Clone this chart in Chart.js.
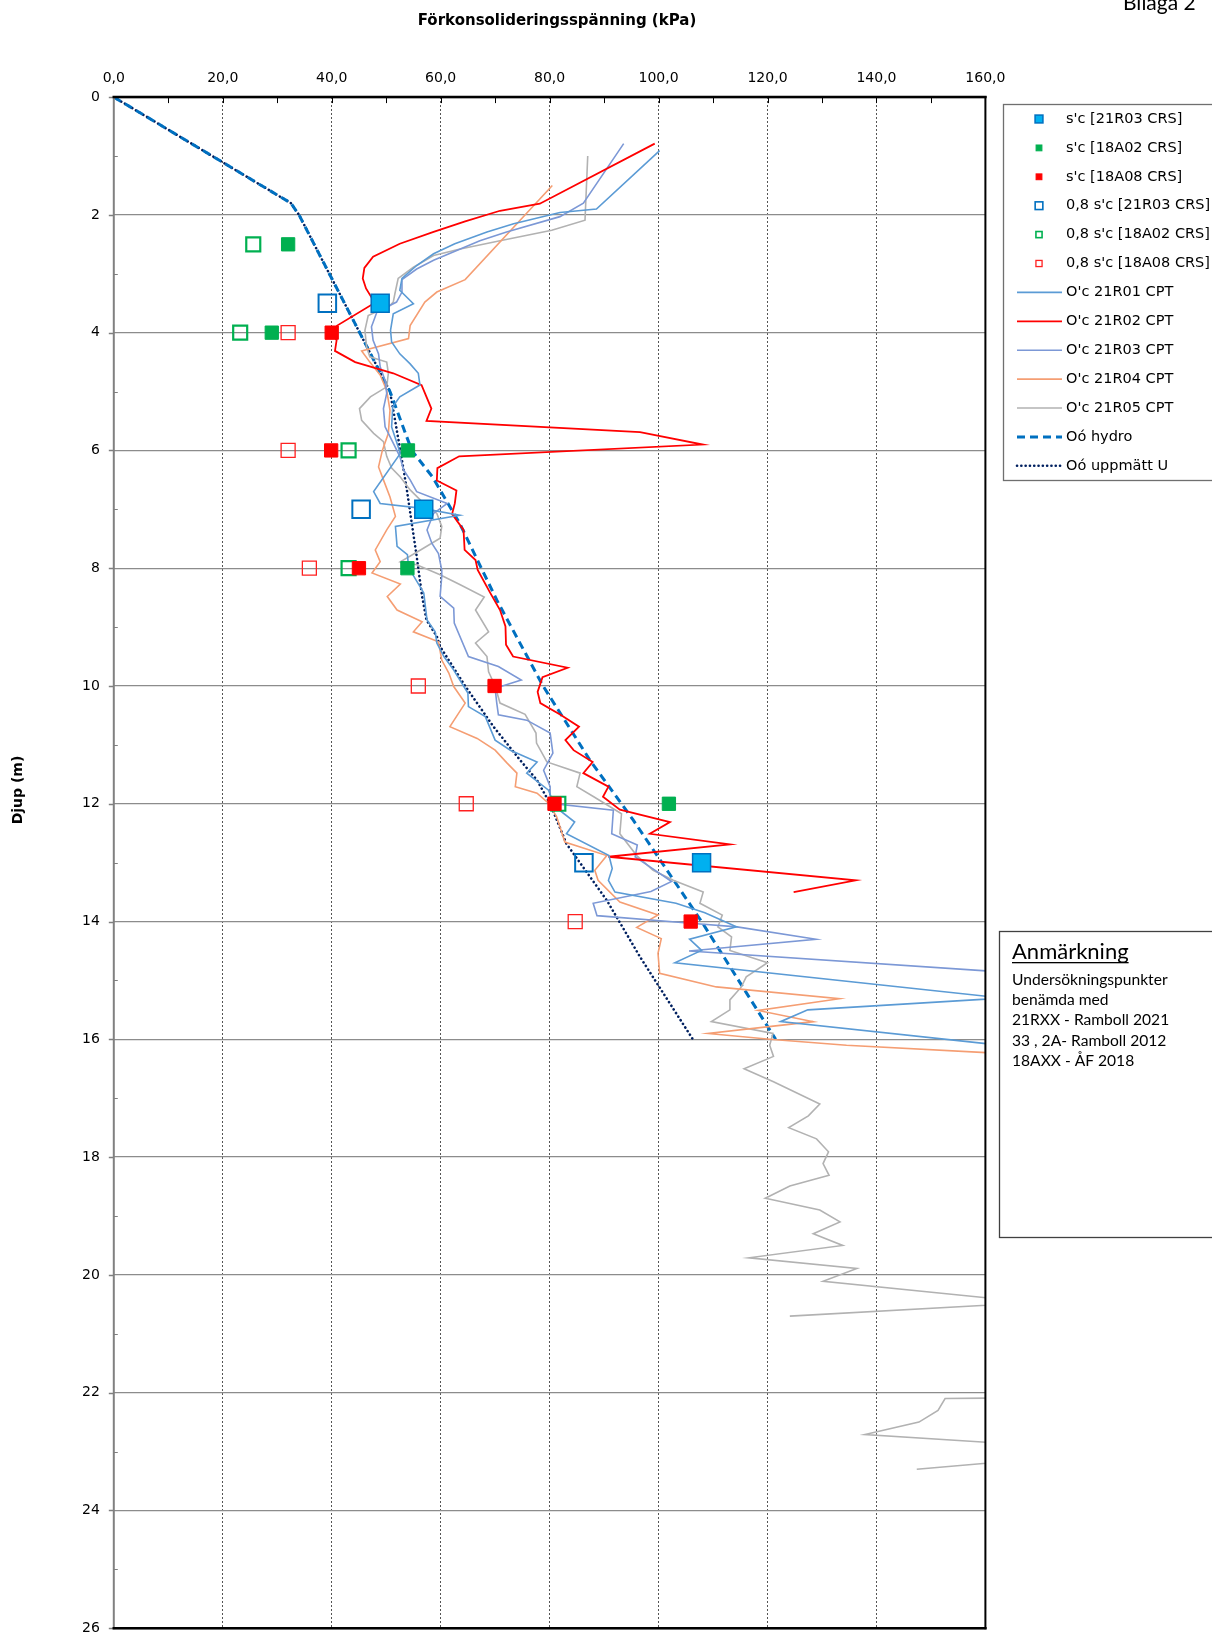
<!DOCTYPE html>
<html>
<head>
<meta charset="utf-8">
<script src="https://cdn.jsdelivr.net/npm/chart.js@4.4.1/dist/chart.umd.min.js"></script>
<style>
  html, body { margin: 0; padding: 0; background: #fff; overflow: hidden; }
  canvas { display: block; }
</style>
</head>
<body>
<canvas id="profile" width="1212" height="1637"></canvas>
<script>
// tick labels
const stressTicks = [0, 20, 40, 60, 80, 100, 120, 140, 160];
const depthTicks = [0, 2, 4, 6, 8, 10, 12, 14, 16, 18, 20, 22, 24, 26];

// lab values [kPa, depth m]
const sc21R03 = [[48.9, 3.5], [56.9, 7.0], [107.9, 13.0]];
const sc18A02 = [[32.0, 2.5], [29.0, 4.0], [54.0, 6.0], [53.9, 8.0], [101.9, 12.0]];
const sc18A08 = [[40.0, 4.0], [39.9, 6.0], [45.0, 8.0], [69.9, 10.0], [80.9, 12.0], [105.9, 14.0]];
const sc08_21R03 = [[39.2, 3.5], [45.4, 7.0], [86.3, 13.0]];
const sc08_18A02 = [[25.6, 2.5], [23.2, 4.0], [43.1, 6.0], [43.1, 8.0], [81.6, 12.0]];
const sc08_18A08 = [[32.0, 4.0], [32.0, 6.0], [35.9, 8.0], [55.9, 10.0], [64.7, 12.0], [84.7, 14.0]];

// CPT profiles [kPa, depth m]
const cpt21R01 = [[100.2,0.91],[88.6,1.90],[81.9,1.96],[73.4,2.15],[68.5,2.29],[62.6,2.49],[58.7,2.66],[55.6,2.86],
  [52.9,3.08],[52.5,3.28],[55.0,3.51],[51.3,3.68],[50.8,3.96],[51.0,4.16],[52.5,4.36],[54.4,4.53],[55.9,4.69],
  [56.2,4.89],[52.5,5.09],[51.2,5.26],[51.0,5.6],[52.6,6.05],[47.7,6.7],[48.9,6.9],[56.3,6.98],[63.5,7.1],
  [51.7,7.29],[52.0,7.63],[53.9,7.77],[54.1,7.97],[54.7,8.08],[56.9,8.42],[57.5,8.88],[59.0,9.08],[59.3,9.27],
  [60.6,9.5],[62.4,9.73],[65.0,10.12],[65.1,10.35],[68.2,10.52],[70.0,10.92],[72.8,11.09],[77.7,11.29],
  [75.8,11.48],[79.8,11.77],[81.0,12.05],[84.6,12.31],[83.1,12.51],[90.9,12.88],[91.5,13.1],[90.8,13.3],
  [92.0,13.5],[103.2,13.69],[108.5,13.85],[114.3,14.09],[105.7,14.3],[107.9,14.49],[103.0,14.7],[163.2,15.3],
  [127.4,15.5],[122.4,15.7],[175,16.22]];
const cpt21R02 = [[99.3,0.79],[78.2,1.81],[70.9,1.93],[64.5,2.11],[58.7,2.29],[52.5,2.49],[47.6,2.71],[46.0,2.9],
  [45.7,3.08],[46.3,3.25],[47.3,3.4],[47.8,3.5],[41.0,3.88],[40.0,4.0],[40.9,4.13],[40.6,4.31],[44.3,4.5],
  [51.3,4.69],[56.5,4.89],[58.3,5.29],[57.4,5.5],[96.6,5.69],[108.1,5.9],[63.4,6.1],[59.4,6.3],[59.3,6.51],
  [62.9,6.68],[62.6,6.9],[62.1,7.08],[64.2,7.35],[64.4,7.69],[66.4,7.86],[66.8,8.03],[69.1,8.42],[70.9,8.71],
  [71.9,8.99],[72.0,9.3],[73.3,9.5],[83.3,9.69],[78.7,9.85],[77.8,10.1],[78.3,10.29],[82.0,10.49],[85.4,10.69],
  [82.9,10.92],[84.4,11.09],[87.9,11.29],[86.2,11.48],[90.8,11.71],[89.8,11.88],[92.9,12.1],[102.1,12.31],
  [98.4,12.51],[113.1,12.69],[90.8,12.9],[136.2,13.3],[124.8,13.5]];
const cpt21R03 = [[93.6,0.79],[86.2,1.8],[81.9,2.03],[72.1,2.29],[67.2,2.44],[62.3,2.63],[58.7,2.77],[55.6,2.92],
  [52.9,3.1],[52.9,3.31],[51.9,3.48],[48.3,3.65],[47.3,3.9],[47.6,4.13],[48.6,4.36],[48.9,4.58],[49.8,4.81],
  [50.1,5.03],[49.5,5.29],[49.8,5.6],[51.0,5.82],[52.5,6.1],[53.2,6.33],[54.4,6.5],[55.6,6.7],[61.2,6.9],
  [58.7,7.07],[57.5,7.35],[58.4,7.58],[59.6,7.75],[60.2,8.03],[60.2,8.14],[59.9,8.48],[62.4,8.68],[62.5,8.93],
  [65.1,9.5],[70.6,9.67],[74.8,9.9],[70.0,10.04],[70.3,10.29],[70.6,10.49],[75.8,10.58],[80.1,10.8],[80.6,11.14],
  [78.9,11.43],[80.1,11.71],[80.1,11.99],[91.7,12.11],[91.4,12.51],[96.1,12.7],[95.7,12.9],[98.9,13.1],
  [102.4,13.32],[98.6,13.49],[88.0,13.69],[88.7,13.9],[105.9,14.03],[114.4,14.09],[128.9,14.3],[105.6,14.5],
  [175,14.93]];
const cpt21R04 = [[80.5,1.5],[64.5,3.1],[59.3,3.31],[57.1,3.48],[54.4,3.88],[54.1,4.1],[45.5,4.31],[47.0,4.5],
  [48.9,4.72],[50.1,4.98],[50.7,5.32],[50.4,5.71],[49.3,6.0],[48.6,6.28],[49.5,6.5],[50.7,6.79],[51.7,7.12],
  [50.1,7.35],[48.0,7.69],[48.9,7.89],[47.4,8.08],[52.6,8.27],[50.2,8.48],[52.0,8.71],[56.6,8.91],[55.0,9.08],
  [59.6,9.25],[60.2,9.56],[61.5,9.78],[62.4,10.01],[64.5,10.29],[61.7,10.69],[66.7,10.89],[70.0,11.09],
  [72.2,11.31],[74.0,11.48],[73.7,11.71],[77.7,11.82],[79.8,11.99],[81.3,12.22],[82.8,12.65],[90.5,12.88],
  [88.3,13.13],[88.9,13.3],[92.9,13.67],[99.9,13.89],[96.0,14.1],[100.5,14.29],[99.9,14.54],[100.2,14.88],
  [110.6,15.11],[133.2,15.31],[118.3,15.51],[128.4,15.7],[109.1,15.9],[120.4,16.0],[134.5,16.1],[175,16.3]];
const cpt21R05 = [[87.0,1.0],[86.5,2.09],[80.4,2.26],[70.9,2.44],[63.6,2.58],[58.7,2.69],[55.0,2.89],[52.2,3.08],
  [51.6,3.34],[51.3,3.48],[50.7,3.54],[46.7,3.71],[46.1,3.96],[46.4,4.24],[47.0,4.41],[50.1,4.5],[50.4,4.69],
  [50.1,4.92],[47.1,5.09],[45.1,5.29],[45.5,5.49],[47.7,5.71],[49.5,5.85],[50.1,6.1],[51.0,6.3],[52.6,6.45],
  [54.4,6.67],[56.9,6.9],[59.3,7.07],[60.2,7.29],[59.9,7.49],[56.3,7.69],[52.6,7.89],[55.6,7.94],[59.9,8.11],
  [63.6,8.28],[68.0,8.49],[66.4,8.71],[68.8,9.08],[66.4,9.27],[68.5,9.5],[68.8,9.76],[70.0,10.0],[70.9,10.29],
  [75.5,10.48],[77.5,10.8],[77.6,10.97],[79.5,11.29],[85.6,11.48],[85.0,11.71],[88.1,11.88],[93.2,12.17],
  [92.9,12.51],[96.0,12.88],[99.0,13.13],[102.7,13.3],[108.2,13.5],[107.6,13.69],[111.7,13.89],[110.9,14.09],
  [113.4,14.26],[113.1,14.49],[120.0,14.7],[116.1,14.94],[115.2,15.11],[113.1,15.33],[113.1,15.5],[109.7,15.7],
  [121.0,15.9],[120.4,16.1],[121.1,16.29],[115.7,16.5],[121.1,16.72],[129.6,17.1],[127.5,17.3],[123.9,17.5],
  [129.0,17.69],[131.2,17.91],[130.2,18.11],[131.3,18.31],[124.1,18.49],[119.6,18.7],[129.6,18.9],[133.3,19.1],
  [128.4,19.3],[133.8,19.5],[116.6,19.71],[136.4,19.89],[130.2,20.11],[169,20.47],[124.1,20.7],
  null,
  [175,22.08],[152.6,22.1],[151.3,22.3],[147.8,22.5],[137.9,22.71],[175,22.93],[175,23.08],[147.4,23.3]];

// reference stress lines
const hydro = [[0,0],[32.5,1.8],[34.0,2.0],[50.7,5.0],[54.7,6.0],[58.5,6.45],[63.5,7.24],[70.3,8.54],[78.8,10.0],
  [87.4,11.26],[95.3,12.27],[107.9,14.0],[121.5,16.0]];
const uppmatt = [[0,0],[32.5,1.8],[34.0,2.0],[50.7,5.0],[52.6,6.0],[53.8,6.67],[54.7,7.24],[55.6,7.8],[56.6,8.48],
  [57.4,8.88],[59.3,9.16],[59.9,9.33],[64.5,10.0],[69.7,10.69],[74.6,11.26],[77.7,11.6],[80.1,12.0],[83.1,12.68],
  [90.5,13.64],[96.6,14.6],[106.3,16.0]];

const pts = arr => arr.map(p => p ? { x: p[0], y: p[1] } : { x: null, y: null });

function markers(label, data, fill, stroke, r, bw) {
  return { label, data: pts(data), showLine: false, pointStyle: 'rect', pointRadius: r,
    pointBackgroundColor: fill, pointBorderColor: stroke, pointBorderWidth: bw,
    backgroundColor: fill, borderColor: stroke, borderWidth: bw };
}
function profile(label, data, color, width) {
  return { label, data: pts(data), showLine: true, pointRadius: 0, borderColor: color,
    borderWidth: width, backgroundColor: color, fill: false, tension: 0 };
}

const datasets = [
  markers("s'c [21R03 CRS]", sc21R03, '#00B0F0', '#0070C0', 12.7, 1.5),
  markers("s'c [18A02 CRS]", sc18A02, '#00B050', '#00B050', 9.4, 1),
  markers("s'c [18A08 CRS]", sc18A08, '#FF0000', '#FF0000', 9.4, 1),
  markers("0,8 s'c [21R03 CRS]", sc08_21R03, 'rgba(255,255,255,0)', '#0070C0', 12.4, 2),
  markers("0,8 s'c [18A02 CRS]", sc08_18A02, 'rgba(255,255,255,0)', '#00B050', 9.9, 2.2),
  markers("0,8 s'c [18A08 CRS]", sc08_18A08, 'rgba(255,255,255,0)', '#FF2020', 9.9, 1.3),
  profile("O'c 21R01 CPT", cpt21R01, '#5B9BD5', 1.6),
  profile("O'c 21R02 CPT", cpt21R02, '#FF0000', 1.8),
  profile("O'c 21R03 CPT", cpt21R03, '#7C98D6', 1.6),
  profile("O'c 21R04 CPT", cpt21R04, '#F59E73', 1.6),
  profile("O'c 21R05 CPT", cpt21R05, '#B2B2B2', 1.6),
  Object.assign(profile('Oó hydro', hydro, '#0070C0', 3), { borderDash: [8, 5] }),
  Object.assign(profile('Oó uppmätt U', uppmatt, '#002060', 2.6), { borderDash: [0.1, 4.2], borderCapStyle: 'round' })
];

const decor = {
  id: 'decor',
  afterDraw(chart) {
    const { ctx, chartArea: a } = chart;
    const xs = chart.scales.x, ys = chart.scales.y;
    ctx.save();
    // ticks
    ctx.strokeStyle = '#000'; ctx.lineWidth = 1;
    for (let v = 10; v < 160; v += 10) {
      const px = Math.round(xs.getPixelForValue(v)) + 0.5;
      ctx.beginPath(); ctx.moveTo(px, a.top); ctx.lineTo(px, a.top + 6); ctx.stroke();
    }
    ctx.strokeStyle = '#7f7f7f';
    for (let d = 1; d < 26; d += 2) {
      const py = Math.round(ys.getPixelForValue(d)) + 0.5;
      ctx.beginPath(); ctx.moveTo(a.left, py); ctx.lineTo(a.left + 4, py); ctx.stroke();
    }
    ctx.lineWidth = 1.5;
    depthTicks.forEach(d => {
      const py = Math.round(ys.getPixelForValue(d)) + 0.5;
      ctx.beginPath(); ctx.moveTo(a.left - 5, py); ctx.lineTo(a.left, py); ctx.stroke();
    });
    // frame
    ctx.lineCap = 'square';
    ctx.strokeStyle = '#808080'; ctx.lineWidth = 2;
    ctx.beginPath(); ctx.moveTo(a.left, a.top); ctx.lineTo(a.left, a.bottom); ctx.stroke();
    ctx.strokeStyle = '#000'; ctx.lineWidth = 2;
    ctx.beginPath(); ctx.moveTo(a.right, a.top); ctx.lineTo(a.right, a.bottom); ctx.stroke();
    ctx.lineWidth = 2.5;
    ctx.beginPath(); ctx.moveTo(a.left, a.top); ctx.lineTo(a.right, a.top); ctx.stroke();
    ctx.beginPath(); ctx.moveTo(a.left, a.bottom); ctx.lineTo(a.right, a.bottom); ctx.stroke();

    // titles
    ctx.fillStyle = '#000';
    ctx.textAlign = 'center'; ctx.textBaseline = 'middle';
    ctx.font = 'bold 15px "DejaVu Sans"';
    ctx.fillText('Förkonsolideringsspänning (kPa)', 557, 21);
    ctx.save();
    ctx.translate(18, 790); ctx.rotate(-Math.PI / 2);
    ctx.font = 'bold 14px "DejaVu Sans"';
    ctx.fillText('Djup (m)', 0, 0);
    ctx.restore();
    ctx.textAlign = 'left'; ctx.textBaseline = 'alphabetic';
    ctx.font = '21px Lato';
    ctx.fillText('Bilaga 2', 1123, 10);

    // legend box
    ctx.strokeStyle = '#6f6f6f'; ctx.lineWidth = 1.3;
    ctx.strokeRect(1003.5, 104.5, 240, 376);
    chart.data.datasets.forEach((ds, i) => {
      const y = 119 + i * 28.9;
      if (ds.showLine) {
        ctx.save();
        ctx.strokeStyle = ds.borderColor; ctx.lineWidth = ds.borderWidth;
        ctx.setLineDash(ds.borderDash || []); ctx.lineCap = ds.borderCapStyle || 'butt';
        ctx.beginPath(); ctx.moveTo(1017, y); ctx.lineTo(1062, y); ctx.stroke();
        ctx.restore();
      } else {
        const s = ds.pointRadius * 0.62;
        ctx.fillStyle = ds.pointBackgroundColor; ctx.fillRect(1039 - s / 2, y - s / 2, s, s);
        ctx.strokeStyle = ds.pointBorderColor; ctx.lineWidth = Math.min(ds.pointBorderWidth, 1.6);
        ctx.strokeRect(1039 - s / 2, y - s / 2, s, s);
      }
      ctx.fillStyle = '#000'; ctx.font = '14.5px "DejaVu Sans"'; ctx.textBaseline = 'middle';
      ctx.fillText(ds.label, 1066, y);
    });

    // remark box
    ctx.strokeStyle = '#404040'; ctx.lineWidth = 1.3;
    ctx.strokeRect(999.5, 931.5, 240, 306);
    ctx.textBaseline = 'alphabetic'; ctx.fillStyle = '#000';
    ctx.font = '22px Lato';
    ctx.fillText('Anmärkning', 1012, 959);
    const w = ctx.measureText('Anmärkning').width;
    ctx.fillRect(1012, 962, w, 1.3);
    ctx.font = '15.6px Lato';
    const lines = ['Undersökningspunkter', 'benämda med', '21RXX - Ramboll 2021', '33 , 2A- Ramboll 2012', '18AXX - ÅF 2018'];
    lines.forEach((t, i) => ctx.fillText(t, 1012, 985 + i * 20.2));
    ctx.restore();
  }
};

Chart.defaults.font.family = '"DejaVu Sans", Verdana, sans-serif';
new Chart(document.getElementById('profile'), {
  type: 'scatter',
  data: { datasets },
  options: {
    responsive: false, animation: false, devicePixelRatio: 1, events: [],
    layout: { autoPadding: false, padding: { left: 0, top: 0, right: 226.6, bottom: 8.8 } },
    plugins: { legend: { display: false }, tooltip: { enabled: false }, title: { display: false } },
    scales: {
      x: {
        type: 'linear', position: 'top', min: 0, max: 160,
        afterBuildTicks: s => { s.ticks = stressTicks.map(v => ({ value: v })); },
        afterFit: s => { s.height = 97.1; },
        ticks: { callback: v => v.toFixed(1).replace('.', ','), font: { size: 14 }, color: '#000', padding: 10, maxRotation: 0, autoSkip: false },
        grid: { color: '#555', lineWidth: 1, drawTicks: false },
        border: { display: false, dash: [2, 2] }
      },
      y: {
        type: 'linear', reverse: true, min: 0, max: 26,
        afterBuildTicks: s => { s.ticks = depthTicks.map(v => ({ value: v })); },
        afterFit: s => { s.width = 113.8; },
        ticks: { font: { size: 14 }, color: '#000', padding: 0, autoSkip: false },
        grid: { color: '#8c8c8c', lineWidth: 1.2, tickLength: 14, tickColor: 'rgba(0,0,0,0)' },
        border: { display: false }
      }
    }
  },
  plugins: [decor]
});
</script>
</body>
</html>
